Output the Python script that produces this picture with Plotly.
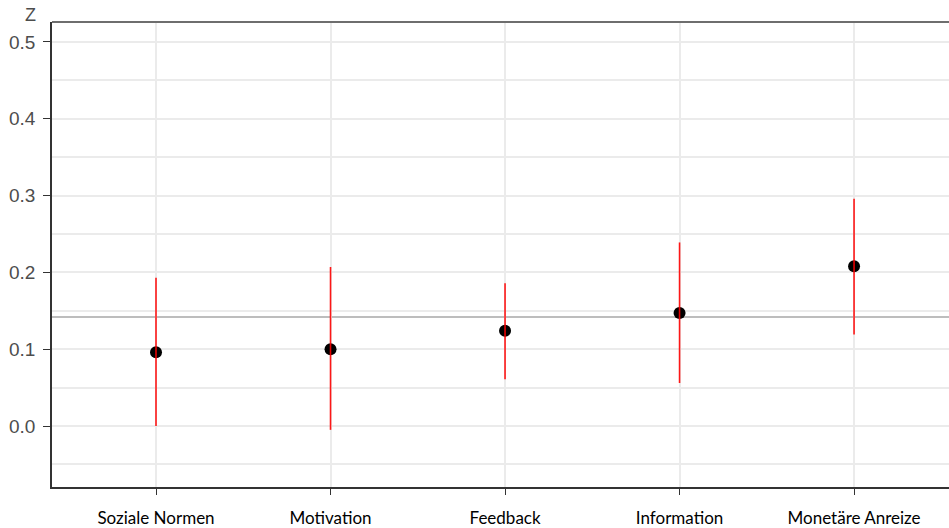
import plotly.graph_objects as go

categories = ["Soziale Normen", "Motivation", "Feedback", "Information", "Monetäre Anreize"]
estimates = [0.096, 0.100, 0.124, 0.147, 0.208]
upper = [0.193, 0.207, 0.186, 0.239, 0.296]
lower = [0.000, -0.005, 0.061, 0.056, 0.119]
reference = 0.142
y_ticks = [0.0, 0.1, 0.2, 0.3, 0.4, 0.5]

x_idx = list(range(len(categories)))
err_plus = [u - e for u, e in zip(upper, estimates)]
err_minus = [e - l for e, l in zip(estimates, lower)]

fig = go.Figure()
fig.add_trace(go.Scatter(
    x=x_idx, y=estimates, mode="markers",
    marker=dict(color="black", size=12),
    showlegend=False, hoverinfo="skip",
))
fig.add_trace(go.Scatter(
    x=x_idx, y=estimates, mode="markers",
    marker=dict(color="rgba(0,0,0,0)", size=12),
    error_y=dict(type="data", symmetric=False, array=err_plus, arrayminus=err_minus,
                 color="rgba(255,0,0,0.9)", thickness=1.6, width=0),
    showlegend=False,
))

fig.add_shape(type="line", xref="paper", x0=0, x1=1, yref="y", y0=reference, y1=reference,
              line=dict(color="#bdbdbd", width=2), layer="below")
fig.add_shape(type="line", xref="paper", x0=0, x1=1, yref="paper", y0=1, y1=1,
              line=dict(color="#6e6e6e", width=2))

fig.update_layout(
    width=949, height=528,
    margin=dict(l=52, r=0, t=22, b=41, pad=0),
    paper_bgcolor="white", plot_bgcolor="white",
    xaxis=dict(
        range=[-0.596, 4.544], automargin=False,
        tickmode="array", tickvals=x_idx, ticktext=categories,
        showgrid=True, gridcolor="#ebebeb", gridwidth=1.5,
        showline=True, linecolor="#333333", linewidth=1.5,
        ticks="outside", ticklen=6, tickcolor="#333333",
        tickfont=dict(family="Lato, Open Sans, sans-serif", size=17, color="black"),
        ticklabelstandoff=9, zeroline=False,
    ),
    yaxis=dict(
        range=[-0.0794, 0.526], automargin=False,
        tickmode="array", tickvals=y_ticks, ticktext=[f"{v:.1f}" for v in y_ticks],
        showgrid=True, gridcolor="#ebebeb", gridwidth=1.5,
        minor=dict(dtick=0.05, showgrid=True, gridcolor="#ebebeb", gridwidth=1.5),
        showline=True, linecolor="#333333", linewidth=1.5,
        ticks="outside", ticklen=7, tickcolor="#333333",
        tickfont=dict(family="Liberation Sans, Arial, sans-serif", size=19, color="#4d4d4d"),
        ticklabelstandoff=4, zeroline=False,
    ),
    annotations=[dict(text="Z", xref="paper", yref="paper", x=-0.0245, y=1.016,
                      xanchor="center", yanchor="middle", showarrow=False,
                      font=dict(family="Liberation Sans, Arial, sans-serif", size=18, color="#4d4d4d"))],
)

fig.write_html("out.html", config={"displayModeBar": False},
               post_script="document.body.style.margin='0';document.body.style.overflow='hidden';")
